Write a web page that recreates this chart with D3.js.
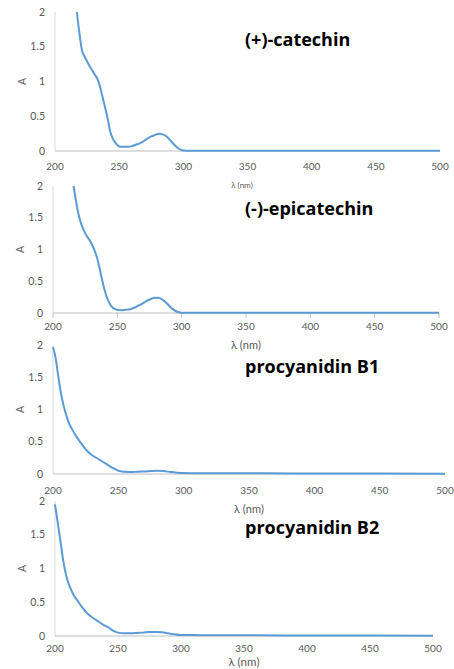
<!DOCTYPE html>
<html>
<head>
<meta charset="utf-8">
<script src="https://cdn.jsdelivr.net/npm/d3@7"></script>
<style>
  html, body { margin: 0; padding: 0; background: #fff; }
  svg { display: block; }
</style>
</head>
<body>
<svg id="chart" width="454" height="669"></svg>
<script>
// UV absorption spectra of four flavan-3-ols (absorbance vs wavelength)
const xTicks = [200, 250, 300, 350, 400, 450, 500];
const yTicks = [0, 0.5, 1, 1.5, 2];
const yTickLabels = ["0", "0.5", "1", "1.5", "2"];
const compounds = ["(+)-catechin", "(-)-epicatechin", "procyanidin B1", "procyanidin B2"];

const catechinNm = [217, 219, 221, 223, 225, 227, 229, 231, 233, 235, 237, 239, 241, 243, 245, 247, 249, 251, 254, 257, 260, 263, 266, 269, 272, 275, 278, 281, 284, 287, 290, 293, 296, 299, 302, 310, 320, 340, 360, 380, 400, 420, 440, 460, 480, 500];
const catechinA = [2.0, 1.70, 1.45, 1.36, 1.29, 1.22, 1.16, 1.10, 1.04, 0.93, 0.78, 0.63, 0.47, 0.28, 0.18, 0.12, 0.08, 0.06, 0.06, 0.06, 0.07, 0.09, 0.11, 0.14, 0.18, 0.21, 0.23, 0.25, 0.24, 0.21, 0.15, 0.09, 0.04, 0.012, 0.005, 0.004, 0.005, 0.004, 0.004, 0.005, 0.004, 0.004, 0.005, 0.004, 0.004, 0.005];

const epicatechinNm = [216, 218, 220, 222, 224, 226, 228, 230, 232, 234, 236, 238, 240, 242, 244, 246, 248, 250, 253, 256, 260, 264, 268, 272, 276, 279, 282, 285, 288, 291, 294, 297, 300, 320, 350, 400, 450, 500];
const epicatechinA = [2.0, 1.75, 1.54, 1.40, 1.30, 1.22, 1.16, 1.09, 1.00, 0.89, 0.72, 0.54, 0.37, 0.24, 0.15, 0.09, 0.065, 0.05, 0.045, 0.05, 0.06, 0.09, 0.13, 0.18, 0.22, 0.24, 0.24, 0.21, 0.16, 0.10, 0.05, 0.015, 0.003, 0.002, 0.002, 0.002, 0.004, 0.004];

const procyanidinNm = [200, 202, 204, 206, 208, 210, 212, 215, 218, 221, 224, 227, 230, 234, 238, 242, 246, 250, 255, 260, 265, 270, 275, 280, 285, 290, 295, 300, 310, 320, 340, 360, 400, 450, 500];
const procyanidinB1A = [1.97, 1.80, 1.52, 1.26, 1.07, 0.92, 0.80, 0.68, 0.58, 0.49, 0.41, 0.34, 0.29, 0.24, 0.19, 0.14, 0.09, 0.05, 0.035, 0.03, 0.035, 0.04, 0.045, 0.05, 0.045, 0.03, 0.02, 0.015, 0.012, 0.012, 0.01, 0.01, 0.008, 0.007, 0.005];
const procyanidinB2A = [1.95, 1.70, 1.45, 1.18, 0.97, 0.82, 0.72, 0.60, 0.52, 0.44, 0.37, 0.31, 0.27, 0.22, 0.17, 0.13, 0.08, 0.05, 0.04, 0.04, 0.045, 0.05, 0.06, 0.06, 0.055, 0.04, 0.025, 0.015, 0.013, 0.012, 0.01, 0.01, 0.008, 0.007, 0.005];

const seriesNm = [catechinNm, epicatechinNm, procyanidinNm, procyanidinNm];
const seriesA = [catechinA, epicatechinA, procyanidinB1A, procyanidinB2A];

// Panel geometry (pixel frame of each plot area and its labels)
const panels = [
  { left: 55, right: 440, top: 12,  bottom: 151, tickY: 166, xLabelY: 188, xLabelX: 242, xLabelSize: 8,  titleY: 46,  ticks: false },
  { left: 53, right: 439, top: 186, bottom: 313, tickY: 326, xLabelY: 349, xLabelX: 246, xLabelSize: 11, titleY: 215, ticks: true },
  { left: 53, right: 445, top: 345, bottom: 474, tickY: 490, xLabelY: 513, xLabelX: 249, xLabelSize: 11, titleY: 372.5, ticks: false },
  { left: 55, right: 433, top: 501, bottom: 636, tickY: 648, xLabelY: 666, xLabelX: 244, xLabelSize: 11.5, titleY: 534, ticks: false }
];

const svg = d3.select("#chart");
const font = "Lato, 'Open Sans', sans-serif";
const titleFont = "'Open Sans', Lato, sans-serif";
const tickColor = "#595959";

panels.forEach((p, i) => {
  const x = d3.scaleLinear().domain([200, 500]).range([p.left, p.right]);
  const y = d3.scaleLinear().domain([0, 2]).range([p.bottom, p.top]);
  const g = svg.append("g");

  // y axis line and labels
  g.append("line")
    .attr("x1", p.left).attr("x2", p.left)
    .attr("y1", y(0)).attr("y2", y(2))
    .attr("stroke", "#d9d9d9").attr("stroke-width", 1);
  g.selectAll(".yt").data(yTicks).join("text")
    .attr("x", p.left - 10)
    .attr("y", d => y(d))
    .attr("dy", "0.35em")
    .attr("text-anchor", "end")
    .attr("font-family", font).attr("font-size", 10.5)
    .attr("fill", tickColor)
    .text((d, j) => yTickLabels[j]);

  // x axis line, ticks and labels
  g.append("line")
    .attr("x1", x(200)).attr("x2", x(500))
    .attr("y1", p.bottom).attr("y2", p.bottom)
    .attr("stroke", "#bfbfbf").attr("stroke-width", 1);
  if (p.ticks) {
    g.selectAll(".xtm").data(xTicks).join("line")
      .attr("x1", d => x(d)).attr("x2", d => x(d))
      .attr("y1", p.bottom).attr("y2", p.bottom + 5)
      .attr("stroke", "#bfbfbf");
  }
  g.selectAll(".xt").data(xTicks).join("text")
    .attr("x", d => x(d))
    .attr("y", p.tickY)
    .attr("dy", "0.35em")
    .attr("text-anchor", "middle")
    .attr("font-family", font).attr("font-size", 10)
    .attr("fill", tickColor)
    .text(d => d);

  // axis titles
  g.append("text")
    .attr("transform", `translate(${p.left - 33},${(p.top + p.bottom) / 2}) rotate(-90)`)
    .attr("dy", "0.35em")
    .attr("text-anchor", "middle")
    .attr("font-family", font).attr("font-size", 10.5)
    .attr("fill", tickColor)
    .text("A");
  g.append("text")
    .attr("x", p.xLabelX).attr("y", p.xLabelY)
    .attr("text-anchor", "middle")
    .attr("font-family", font).attr("font-size", p.xLabelSize)
    .attr("fill", tickColor)
    .text("λ (nm)");

  // spectrum
  const pts = seriesNm[i].map((nm, k) => [nm, seriesA[i][k]]);
  g.append("path")
    .datum(pts)
    .attr("fill", "none")
    .attr("stroke", "#5b9bd5")
    .attr("stroke-width", 2)
    .attr("stroke-linejoin", "round")
    .attr("d", d3.line().x(d => x(d[0])).y(d => y(d[1])).curve(d3.curveMonotoneX));

  // compound name
  g.append("text")
    .attr("x", 245).attr("y", p.titleY)
    .attr("font-family", titleFont).attr("font-size", 18).attr("font-weight", "bold")
    .attr("fill", "#000")
    .text(compounds[i]);
});
</script>
</body>
</html>
